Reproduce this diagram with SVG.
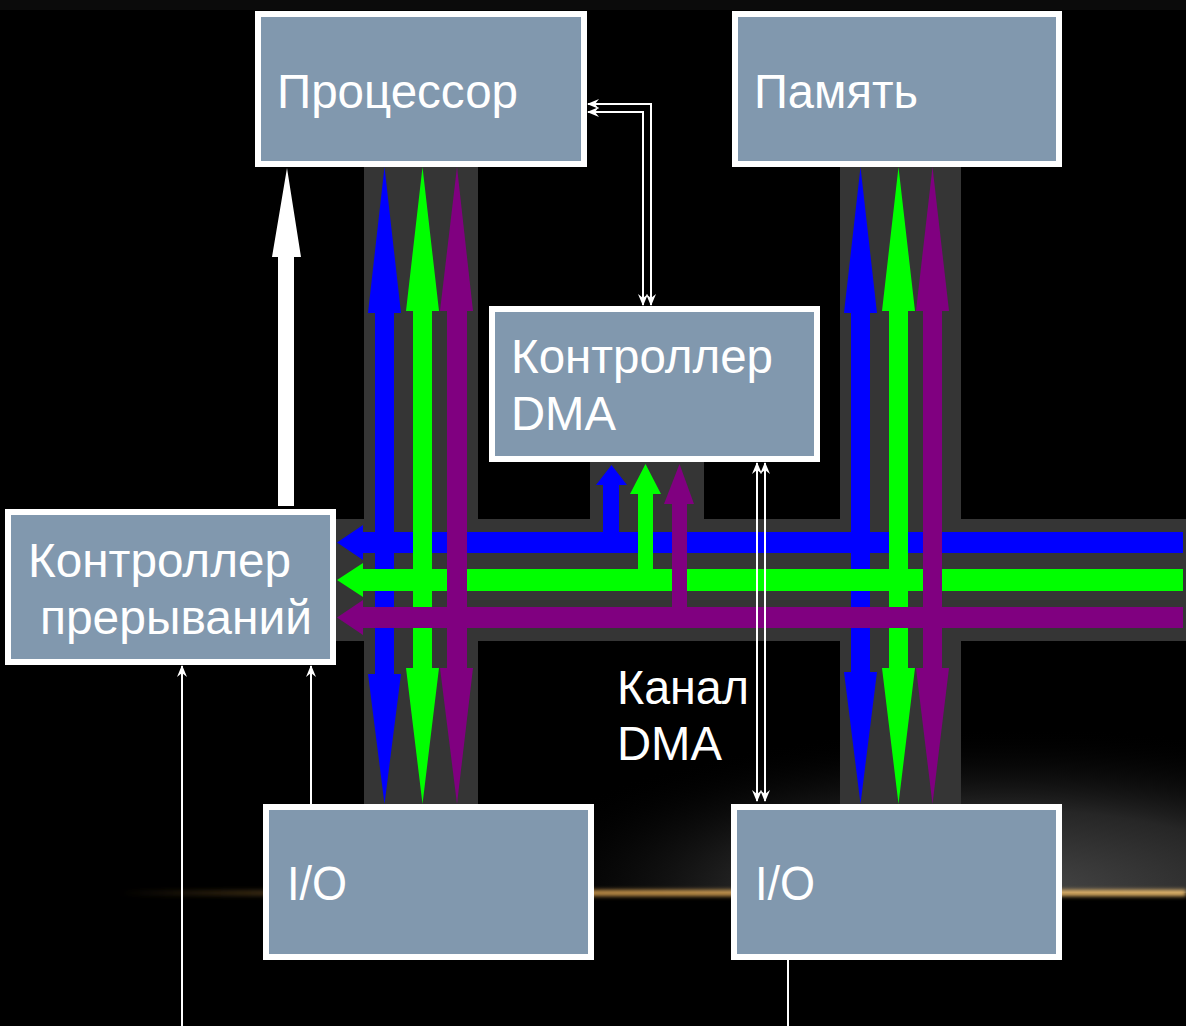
<svg xmlns="http://www.w3.org/2000/svg" width="1186" height="1026" viewBox="0 0 1186 1026">
<style>
.box{fill:#8198ae;stroke:#ffffff;stroke-width:6}
.lbl{font-family:"Liberation Sans",Arial,sans-serif;font-size:48px;fill:#ffffff}
.bus{fill:#353535}
.thin{fill:none;stroke:#ffffff;stroke-width:2}
</style>
<defs>
<radialGradient id="glow" cx="1010" cy="893" r="520" gradientUnits="userSpaceOnUse" gradientTransform="translate(0 893) scale(1 0.32) translate(0 -893)">
<stop offset="0" stop-color="#484848"/>
<stop offset="0.5" stop-color="#262626"/>
<stop offset="1" stop-color="#000000" stop-opacity="0"/>
</radialGradient>
<linearGradient id="orange" x1="0" y1="0" x2="1186" y2="0" gradientUnits="userSpaceOnUse">
<stop offset="0.1" stop-color="#c8903c" stop-opacity="0"/>
<stop offset="0.5" stop-color="#d8a050" stop-opacity="0.9"/>
<stop offset="1" stop-color="#f0c070"/>
</linearGradient>
<filter id="blur" x="-10%" y="-200%" width="120%" height="500%"><feGaussianBlur stdDeviation="2"/></filter>
<clipPath id="above"><rect x="0" y="0" width="1186" height="893"/></clipPath>
<marker id="ah" viewBox="0 0 12 10" refX="11" refY="5" markerWidth="12" markerHeight="10" markerUnits="userSpaceOnUse" orient="auto-start-reverse">
<path d="M0,0 L12,5 L0,10 L4,5 Z" fill="#ffffff"/>
</marker>
</defs>
<rect width="1186" height="1026" fill="#000000"/>
<rect width="1186" height="10" fill="#0b0b0b"/>
<g clip-path="url(#above)"><rect x="300" y="600" width="886" height="293" fill="url(#glow)"/></g>
<rect x="0" y="890" width="1186" height="6" fill="url(#orange)" filter="url(#blur)"/>

<g id="bus-backgrounds">
<rect class="bus" x="364" y="166" width="114" height="638"/>
<rect class="bus" x="840" y="166" width="121" height="638"/>
<rect class="bus" x="336" y="519" width="850" height="122"/>
<rect class="bus" x="590" y="462" width="114" height="57"/>
</g>

<g id="connectors">
<g id="blue">
<polygon fill="#0000ff" points="384.5,167 401,313 394,313 394,674 401,674 384.5,804 368,674 375,674 375,313 368,313"/>
<polygon fill="#0000ff" points="860.5,167 877,313 870,313 870,672 877,672 860.5,804 844,672 851,672 851,313 844,313"/>
<polygon fill="#0000ff" points="1183,532 363,532 363,525 337,542.5 363,560 363,553 1183,553"/>
<polygon fill="#0000ff" points="611.5,465 627,485 619,485 619,553 603,553 603,485 596,485"/>
</g>
<g id="green">
<polygon fill="#00ff00" points="422.5,167 439,311 432,311 432,668 439,668 422.5,804 406,668 413,668 413,311 406,311"/>
<polygon fill="#00ff00" points="898.5,167 915,311 908,311 908,668 915,668 898.5,804 882,668 889,668 889,311 882,311"/>
<polygon fill="#00ff00" points="1183,569 363,569 363,563 337,580 363,597 363,591 1183,591"/>
<polygon fill="#00ff00" points="645.5,464 661,494 653,494 653,575 638,575 638,494 630,494"/>
</g>
<g id="purple">
<polygon fill="#800080" points="457,167 473,311 467,311 467,668 473,668 457,804 440,668 447,668 447,311 440,311"/>
<polygon fill="#800080" points="932.5,167 949,311 942,311 942,668 949,668 932.5,804 916,668 923,668 923,311 916,311"/>
<polygon fill="#800080" points="1183,607 363,607 363,600 337,617.5 363,635 363,628 1183,628"/>
<polygon fill="#800080" points="679.5,464 694,504 687,504 687,615 672,615 672,504 664,504"/>
</g>
<polygon id="irq-arrow" fill="#ffffff" points="287,168 301,257 294,257 294,506 278,506 278,257 272,257"/>
<path class="thin" d="M588,104 H651 V305" marker-start="url(#ah)" marker-end="url(#ah)"/>
<path class="thin" d="M588,112 H643 V305" marker-start="url(#ah)" marker-end="url(#ah)"/>
<path class="thin" d="M757,463 V801" marker-start="url(#ah)" marker-end="url(#ah)"/>
<path class="thin" d="M765,463 V801" marker-start="url(#ah)" marker-end="url(#ah)"/>
<path class="thin" d="M182,1026 V666" marker-end="url(#ah)"/>
<path class="thin" d="M311,804 V666" marker-end="url(#ah)"/>
<path class="thin" d="M788,960 V1026"/>
</g>

<g id="processor">
<rect class="box" x="258" y="14" width="326" height="150"/>
<text class="lbl" x="277" y="108" textLength="241" lengthAdjust="spacingAndGlyphs">Процессор</text>
</g>
<g id="memory">
<rect class="box" x="735" y="14" width="324" height="150"/>
<text class="lbl" x="754" y="108" textLength="164" lengthAdjust="spacingAndGlyphs">Память</text>
</g>
<g id="dma-controller">
<rect class="box" x="492" y="309" width="325" height="150"/>
<text class="lbl" x="511" y="373" textLength="262" lengthAdjust="spacingAndGlyphs">Контроллер</text>
<text class="lbl" x="511" y="430" textLength="105" lengthAdjust="spacingAndGlyphs">DMA</text>
</g>
<g id="interrupt-controller">
<rect class="box" x="8" y="512" width="325" height="150"/>
<text class="lbl" x="28" y="577" textLength="263" lengthAdjust="spacingAndGlyphs">Контроллер</text>
<text class="lbl" x="40" y="634" textLength="272" lengthAdjust="spacingAndGlyphs">прерываний</text>
</g>
<g id="io-left">
<rect class="box" x="266" y="807" width="325" height="150"/>
<text class="lbl" x="287" y="900" textLength="60" lengthAdjust="spacingAndGlyphs">I/O</text>
</g>
<g id="io-right">
<rect class="box" x="734" y="807" width="325" height="150"/>
<text class="lbl" x="755" y="900" textLength="60" lengthAdjust="spacingAndGlyphs">I/O</text>
</g>
<g id="dma-channel-label">
<text class="lbl" x="617" y="704" textLength="132" lengthAdjust="spacingAndGlyphs">Канал</text>
<text class="lbl" x="617" y="760" textLength="105" lengthAdjust="spacingAndGlyphs">DMA</text>
</g>
</svg>
